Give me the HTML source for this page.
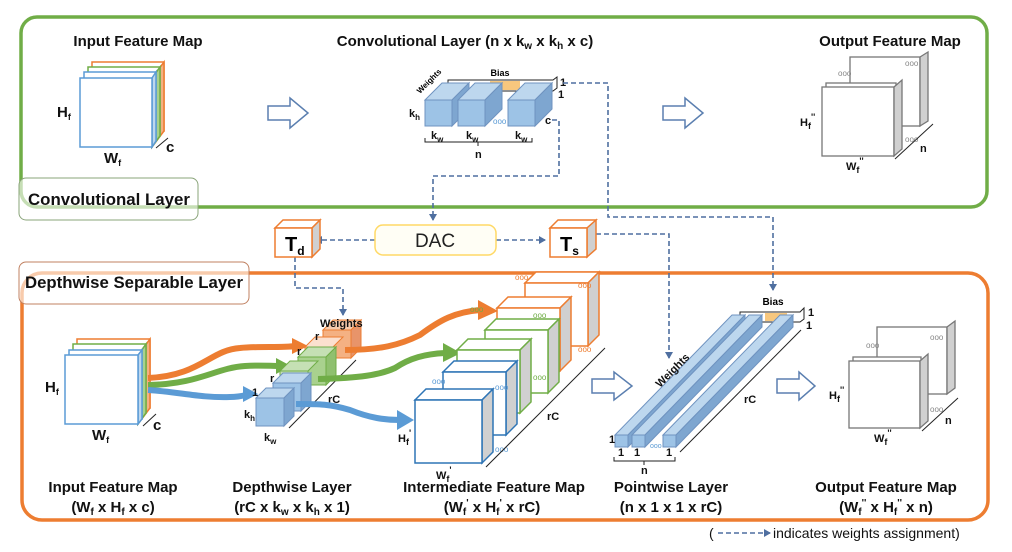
<!DOCTYPE html>
<html><head><meta charset="utf-8"><style>
html,body{margin:0;padding:0;background:#fff;}
svg{display:block;font-family:"Liberation Sans",Arial,sans-serif;}
.t{font-weight:bold;font-size:15px;fill:#111;}
.s{font-weight:bold;font-size:11px;fill:#111;}
</style></head><body>
<svg width="1012" height="552" viewBox="0 0 1012 552" xmlns="http://www.w3.org/2000/svg">
<defs>
<marker id="ah" markerWidth="8" markerHeight="8" refX="6" refY="4" orient="auto" markerUnits="userSpaceOnUse"><path d="M0,0 L7,4 L0,8 z" fill="#4f6fa0"/></marker>
</defs>

<rect x="21" y="17" width="966" height="190" rx="16" fill="none" stroke="#70ad47" stroke-width="3.5"/>
<rect x="19" y="178" width="179" height="42" rx="7" fill="#fff" fill-opacity="0.6" stroke="#8aa47a" stroke-width="1"/>
<text x="28" y="205" font-size="17" font-weight="bold" fill="#111" textLength="162" lengthAdjust="spacingAndGlyphs">Convolutional Layer</text>

<rect x="22" y="273" width="966" height="247" rx="20" fill="none" stroke="#ed7d31" stroke-width="3.5"/>
<rect x="19" y="262" width="230" height="42" rx="7" fill="#fff" fill-opacity="0.6" stroke="#c08060" stroke-width="1"/>
<text x="25" y="288" font-size="17" font-weight="bold" fill="#111" textLength="218" lengthAdjust="spacingAndGlyphs">Depthwise Separable Layer</text>

<text class="t" x="138" y="46" text-anchor="middle">Input Feature Map</text>
<text class="t" x="465" y="46" text-anchor="middle">Convolutional Layer (n x k<tspan font-size="10" dy="3">w</tspan><tspan dy="-3"> x k</tspan><tspan font-size="10" dy="3">h</tspan><tspan dy="-3"> x c)</tspan></text>
<text class="t" x="890" y="46" text-anchor="middle">Output Feature Map</text>

<g stroke-width="1.5" fill="#fff">
<rect x="92" y="62" width="72" height="69" stroke="#ed7d31"/>
<polygon points="152,78 164,62 164,131 152,147" fill="#f4b183" stroke="#ed7d31"/>
<rect x="88" y="67" width="72" height="69" stroke="#70ad47"/>
<polygon points="152,78 160,67 160,136 152,147" fill="#a9d18e" stroke="#70ad47"/>
<rect x="84" y="72" width="72" height="69" stroke="#5b9bd5"/>
<polygon points="152,78 156,72 156,141 152,147" fill="#bdd7ee" stroke="#5b9bd5"/>
<rect x="80" y="78" width="72" height="69" stroke="#5b9bd5"/>
</g>
<text class="t" x="57" y="117" font-size="13">H<tspan font-size="9" dy="3">f</tspan></text>
<text class="t" x="104" y="163" font-size="13">W<tspan font-size="9" dy="3">f</tspan></text>
<line x1="156" y1="148" x2="168" y2="138" stroke="#222"/>
<text class="t" x="166" y="152" font-size="13">c</text>

<g fill="#fff" stroke="#5b7fb0" stroke-width="1.5">
<polygon points="268,106 290,106 290,98 308,113 290,128 290,120 268,120"/>
<polygon points="663,106 685,106 685,98 703,113 685,128 685,120 663,120"/>
<polygon points="592,379 614,379 614,372 632,386 614,400 614,393 592,393"/>
<polygon points="777,379 799,379 799,372 815,386 799,400 799,393 777,393"/>
</g>

<polygon points="448,80 553,80 557,77 557,88 553,91 448,91" fill="#fff" stroke="#222"/>
<rect x="490" y="81" width="30" height="9" fill="#f7c77e"/>
<text x="500" y="76" font-size="9" font-weight="bold" text-anchor="middle">Bias</text>
<g stroke="#6f93c0" stroke-width="1">
<polygon points="425,100 442,83 469,83 452,100" fill="#bdd7ee"/>
<polygon points="452,100 469,83 469,109 452,126" fill="#7ea6d0"/>
<rect x="425" y="100" width="27" height="26" fill="#9dc3e6"/>
<polygon points="458,100 475,83 502,83 485,100" fill="#bdd7ee"/>
<polygon points="485,100 502,83 502,109 485,126" fill="#7ea6d0"/>
<rect x="458" y="100" width="27" height="26" fill="#9dc3e6"/>
<polygon points="508,100 525,83 552,83 535,100" fill="#bdd7ee"/>
<polygon points="535,100 552,83 552,109 535,126" fill="#7ea6d0"/>
<rect x="508" y="100" width="27" height="26" fill="#9dc3e6"/>
</g>
<text x="493" y="124" font-size="8" fill="#5b9bd5">ooo</text>
<text x="420" y="94" font-size="8" font-weight="bold" transform="rotate(-45 420 94)">Weights</text>
<text class="s" x="409" y="117" font-size="12">k<tspan font-size="8" dy="3">h</tspan></text>
<text class="s" x="431" y="139" font-size="12">k<tspan font-size="8" dy="3">w</tspan></text>
<text class="s" x="466" y="139" font-size="12">k<tspan font-size="8" dy="3">w</tspan></text>
<text class="s" x="515" y="139" font-size="12">k<tspan font-size="8" dy="3">w</tspan></text>
<path d="M425,138 V142 H532 V138 M478,142 V146" fill="none" stroke="#222"/>
<text class="s" x="475" y="158" font-size="10">n</text>
<text class="s" x="545" y="124" font-size="11">c</text>
<text class="s" x="560" y="86" font-size="9">1</text>
<text class="s" x="558" y="98" font-size="9">1</text>

<g stroke="#777" stroke-width="1.3">
<rect x="850" y="57" width="70" height="69" fill="#fff"/>
<polygon points="920,57 928,52 928,121 920,126" fill="#d0d0d0"/>
<rect x="826" y="83" width="70" height="69" fill="#fff"/>
<rect x="822" y="87" width="72" height="69" fill="#fff"/>
<polygon points="894,87 902,80 902,149 894,156" fill="#d0d0d0"/>
</g>
<text x="838" y="76" font-size="8" fill="#888">ooo</text>
<text x="905" y="66" font-size="8" fill="#888">ooo</text>
<text x="905" y="142" font-size="8" fill="#888">ooo</text>
<line x1="895" y1="159" x2="933" y2="124" stroke="#222"/>
<text class="s" x="920" y="152" font-size="11">n</text>
<text class="s" x="800" y="126" font-size="13">H<tspan font-size="9" dy="3">f</tspan><tspan dy="-9" font-size="9">''</tspan></text>
<text class="s" x="846" y="170" font-size="13">W<tspan font-size="9" dy="3">f</tspan><tspan dy="-9" font-size="9">''</tspan></text>

<g fill="none" stroke="#4f6fa0" stroke-width="1.6" stroke-dasharray="5,3">
<path d="M552,120 H559 V176 H433 V220" marker-end="url(#ah)"/>
<path d="M375,240 H316" marker-end="url(#ah)"/>
<path d="M496,240 H545" marker-end="url(#ah)"/>
<path d="M563,83 H608 V217 H773 V290" marker-end="url(#ah)"/>
<path d="M596,234 H669 V358" marker-end="url(#ah)"/>
<path d="M295,257 V288 H343 V315" marker-end="url(#ah)"/>
<path d="M718,533 H770" marker-end="url(#ah)"/>
</g>

<rect x="375" y="225" width="121" height="30" rx="8" fill="#fffef5" stroke="#ffd966" stroke-width="1.5"/>
<text x="435" y="247" font-size="19" text-anchor="middle" fill="#222">DAC</text>
<g stroke="#ed7d31" stroke-width="1.5">
<polygon points="275,228 283,220 320,220 312,228" fill="#fff"/>
<polygon points="312,228 320,220 320,249 312,257" fill="#d0d0d0"/>
<rect x="275" y="228" width="37" height="29" fill="#fff"/>
<polygon points="550,228 558,220 596,220 587,228" fill="#fff"/>
<polygon points="587,228 596,220 596,249 587,257" fill="#d0d0d0"/>
<rect x="550" y="228" width="37" height="29" fill="#fff"/>
</g>
<text x="285" y="251" font-size="20" font-weight="bold">T<tspan font-size="12" dy="4">d</tspan></text>
<text x="560" y="251" font-size="20" font-weight="bold">T<tspan font-size="12" dy="4">s</tspan></text>

<g stroke-width="1.5" fill="#fff">
<rect x="77" y="339" width="73" height="69" stroke="#ed7d31"/>
<polygon points="138,355 150,339 150,408 138,424" fill="#f4b183" stroke="#ed7d31"/>
<rect x="73" y="344" width="73" height="69" stroke="#70ad47"/>
<polygon points="138,355 146,344 146,413 138,424" fill="#a9d18e" stroke="#70ad47"/>
<rect x="69" y="350" width="73" height="69" stroke="#5b9bd5"/>
<polygon points="138,355 142,350 142,419 138,424" fill="#bdd7ee" stroke="#5b9bd5"/>
<rect x="65" y="355" width="73" height="69" stroke="#5b9bd5"/>
</g>
<text class="t" x="45" y="392" font-size="13">H<tspan font-size="9" dy="3">f</tspan></text>
<text class="t" x="92" y="440" font-size="13">W<tspan font-size="9" dy="3">f</tspan></text>
<line x1="143" y1="426" x2="156" y2="414" stroke="#222"/>
<text class="t" x="153" y="430" font-size="13">c</text>

<g fill="none" stroke-width="6">
<path d="M148,378 C200,376 210,350 240,348 C260,346 280,348 296,346" stroke="#ed7d31"/>
<path d="M148,385 C200,384 215,368 245,366 C260,365 270,366 280,366" stroke="#70ad47"/>
<path d="M148,390 C180,392 200,398 230,397 C238,397 242,396 246,395" stroke="#5b9bd5"/>
</g>
<polygon points="292,338 308,346 292,354" fill="#ed7d31"/>
<polygon points="276,358 291,366 276,374" fill="#70ad47"/>
<polygon points="243,386 258,394 243,402" fill="#5b9bd5"/>

<g stroke-width="1">
<polygon points="323,330 333,320 361,320 351,330" fill="#f8cbad" stroke="#ed7d31"/>
<polygon points="351,330 361,320 361,348 351,358" fill="#e8946a" stroke="#ed7d31"/>
<rect x="323" y="330" width="28" height="28" fill="#f4b183" stroke="#ed7d31"/>
<polygon points="305,347 315,337 343,337 333,347" fill="#fbe0cf" stroke="#ed7d31"/>
<rect x="305" y="347" width="28" height="28" fill="#f8cbad" stroke="#ed7d31"/>
<polygon points="298,357 308,347 336,347 326,357" fill="#c5e0b4" stroke="#70ad47"/>
<polygon points="326,357 336,347 336,375 326,385" fill="#8fc06f" stroke="#70ad47"/>
<rect x="298" y="357" width="28" height="28" fill="#a9d18e" stroke="#70ad47"/>
<polygon points="280,371 290,361 318,361 308,371" fill="#c5e0b4" stroke="#70ad47"/>
<rect x="280" y="371" width="28" height="28" fill="#c5e0b4" stroke="#70ad47"/>
<polygon points="273,383 283,373 311,373 301,383" fill="#bdd7ee" stroke="#6f93c0"/>
<polygon points="301,383 311,373 311,401 301,411" fill="#7ea6d0" stroke="#6f93c0"/>
<rect x="273" y="383" width="28" height="28" fill="#9dc3e6" stroke="#6f93c0"/>
<polygon points="256,398 266,388 294,388 284,398" fill="#bdd7ee" stroke="#6f93c0"/>
<polygon points="284,398 294,388 294,416 284,426" fill="#7ea6d0" stroke="#6f93c0"/>
<rect x="256" y="398" width="28" height="28" fill="#9dc3e6" stroke="#6f93c0"/>
</g>
<text class="s" x="320" y="327" font-size="9">Weights</text>
<line x1="289" y1="428" x2="356" y2="360" stroke="#222"/>
<text class="s" x="328" y="403" font-size="11">rC</text>
<text class="s" x="244" y="418" font-size="12">k<tspan font-size="8" dy="3">h</tspan></text>
<text class="s" x="264" y="441" font-size="12">k<tspan font-size="8" dy="3">w</tspan></text>
<text class="s" x="252" y="396" font-size="8">1</text>
<text class="s" x="270" y="382" font-size="8">r</text>
<text class="s" x="297" y="355" font-size="8">r</text>
<text class="s" x="315" y="340" font-size="8">r</text>

<g fill="none" stroke-width="6">
<path d="M345,350 C380,350 400,345 420,335 C440,320 455,312 480,310" stroke="#ed7d31"/>
<path d="M318,379 C360,378 380,375 395,368 C410,358 425,354 445,353" stroke="#70ad47"/>
<path d="M296,404 C320,404 330,404 350,410 C370,418 385,420 400,420" stroke="#5b9bd5"/>
</g>
<polygon points="478,300 498,311 478,320" fill="#ed7d31"/>
<polygon points="443,343 461,353 443,362" fill="#70ad47"/>
<polygon points="397,410 414,420 397,430" fill="#5b9bd5"/>

<g stroke-width="1.5">
<polygon points="525,283 536,272 599,272 588,283" fill="#fff" stroke="#ed7d31"/>
<polygon points="588,283 599,272 599,335 588,346" fill="#d0d0d0" stroke="#ed7d31"/>
<rect x="525" y="283" width="63" height="63" fill="#fff" stroke="#ed7d31"/>
<polygon points="497,308 508,297 571,297 560,308" fill="#fff" stroke="#ed7d31"/>
<polygon points="560,308 571,297 571,360 560,371" fill="#d0d0d0" stroke="#ed7d31"/>
<rect x="497" y="308" width="63" height="63" fill="#fff" stroke="#ed7d31"/>
<polygon points="485,330 496,319 559,319 548,330" fill="#fff" stroke="#70ad47"/>
<polygon points="548,330 559,319 559,382 548,393" fill="#d0d0d0" stroke="#70ad47"/>
<rect x="485" y="330" width="63" height="63" fill="#fff" stroke="#70ad47"/>
<polygon points="457,350 468,339 531,339 520,350" fill="#fff" stroke="#70ad47"/>
<polygon points="520,350 531,339 531,402 520,413" fill="#d0d0d0" stroke="#70ad47"/>
<rect x="457" y="350" width="63" height="63" fill="#fff" stroke="#70ad47"/>
<polygon points="443,372 454,361 517,361 506,372" fill="#fff" stroke="#2e75b6"/>
<polygon points="506,372 517,361 517,424 506,435" fill="#d0d0d0" stroke="#2e75b6"/>
<rect x="443" y="372" width="63" height="63" fill="#fff" stroke="#2e75b6"/>
<polygon points="415,400 426,389 493,389 482,400" fill="#fff" stroke="#2e75b6"/>
<polygon points="482,400 493,389 493,452 482,463" fill="#d0d0d0" stroke="#2e75b6"/>
<rect x="415" y="400" width="67" height="63" fill="#fff" stroke="#2e75b6"/>
</g>
<g font-size="8" fill="#5b9bd5">
<text x="432" y="384">ooo</text><text x="495" y="390">ooo</text><text x="495" y="452">ooo</text>
<text x="470" y="312" fill="#70ad47">ooo</text><text x="533" y="318" fill="#70ad47">ooo</text><text x="533" y="380" fill="#70ad47">ooo</text>
<text x="515" y="280" fill="#ed7d31">ooo</text><text x="578" y="288" fill="#ed7d31">ooo</text><text x="578" y="352" fill="#ed7d31">ooo</text>
</g>
<line x1="486" y1="467" x2="605" y2="348" stroke="#222"/>
<text class="s" x="547" y="420" font-size="11">rC</text>
<text class="s" x="398" y="442" font-size="13">H<tspan font-size="9" dy="3">f</tspan><tspan dy="-9" font-size="9">'</tspan></text>
<text class="s" x="436" y="479" font-size="13">W<tspan font-size="9" dy="3">f</tspan><tspan dy="-9" font-size="9">'</tspan></text>

<polygon points="740,312 800,312 804,308 804,319 800,322 740,322" fill="#fff" stroke="#222"/>
<rect x="765" y="313" width="22" height="8" fill="#f7c77e"/>
<text x="773" y="305" font-size="10" font-weight="bold" text-anchor="middle">Bias</text>
<text class="s" x="808" y="316" font-size="9">1</text>
<text class="s" x="806" y="329" font-size="9">1</text>
<g stroke="#6f93c0" stroke-width="1">
<polygon points="615,435 732,315 745,315 628,435" fill="#bdd7ee"/>
<polygon points="628,435 745,315 745,327 628,447" fill="#7ea6d0"/>
<rect x="615" y="435" width="13" height="12" fill="#9dc3e6"/>
<polygon points="632,435 749,315 762,315 645,435" fill="#bdd7ee"/>
<polygon points="645,435 762,315 762,327 645,447" fill="#7ea6d0"/>
<rect x="632" y="435" width="13" height="12" fill="#9dc3e6"/>
<polygon points="663,435 780,315 793,315 676,435" fill="#bdd7ee"/>
<polygon points="676,435 793,315 793,327 676,447" fill="#7ea6d0"/>
<rect x="663" y="435" width="13" height="12" fill="#9dc3e6"/>
</g>
<text x="650" y="448" font-size="7" fill="#5b9bd5">ooo</text>
<text class="s" x="660" y="388" font-size="10" transform="rotate(-45 660 388)">Weights</text>
<line x1="680" y1="452" x2="801" y2="330" stroke="#222"/>
<text class="s" x="744" y="403" font-size="11">rC</text>
<text class="s" x="609" y="443" font-size="9">1</text>
<text class="s" x="618" y="456" font-size="9">1</text>
<text class="s" x="634" y="456" font-size="9">1</text>
<text class="s" x="666" y="456" font-size="9">1</text>
<path d="M614,457 V461 H675 V457 M644,461 V465" fill="none" stroke="#222"/>
<text class="s" x="641" y="474" font-size="10">n</text>

<g stroke="#777" stroke-width="1.3">
<rect x="877" y="327" width="70" height="67" fill="#fff"/>
<polygon points="947,327 955,321 955,388 947,394" fill="#d0d0d0"/>
<rect x="853" y="357" width="68" height="67" fill="#fff"/>
<rect x="849" y="361" width="71" height="67" fill="#fff"/>
<polygon points="920,361 928,354 928,421 920,428" fill="#d0d0d0"/>
</g>
<text x="866" y="348" font-size="8" fill="#888">ooo</text>
<text x="930" y="340" font-size="8" fill="#888">ooo</text>
<text x="930" y="412" font-size="8" fill="#888">ooo</text>
<line x1="922" y1="431" x2="958" y2="398" stroke="#222"/>
<text class="s" x="945" y="424" font-size="11">n</text>
<text class="s" x="829" y="399" font-size="13">H<tspan font-size="9" dy="3">f</tspan><tspan dy="-9" font-size="9">''</tspan></text>
<text class="s" x="874" y="442" font-size="13">W<tspan font-size="9" dy="3">f</tspan><tspan dy="-9" font-size="9">''</tspan></text>

<text class="t" x="113" y="492" text-anchor="middle">Input Feature Map</text>
<text class="t" x="113" y="512" text-anchor="middle">(W<tspan font-size="10" dy="3">f</tspan><tspan dy="-3"> x H</tspan><tspan font-size="10" dy="3">f</tspan><tspan dy="-3"> x c)</tspan></text>
<text class="t" x="292" y="492" text-anchor="middle">Depthwise Layer</text>
<text class="t" x="292" y="512" text-anchor="middle">(rC x k<tspan font-size="10" dy="3">w</tspan><tspan dy="-3"> x k</tspan><tspan font-size="10" dy="3">h</tspan><tspan dy="-3"> x 1)</tspan></text>
<text class="t" x="494" y="492" text-anchor="middle">Intermediate Feature Map</text>
<text class="t" x="492" y="512" text-anchor="middle">(W<tspan font-size="10" dy="3">f</tspan><tspan dy="-9" font-size="10">'</tspan><tspan dy="6"> x H</tspan><tspan font-size="10" dy="3">f</tspan><tspan dy="-9" font-size="10">'</tspan><tspan dy="6"> x rC)</tspan></text>
<text class="t" x="671" y="492" text-anchor="middle">Pointwise Layer</text>
<text class="t" x="671" y="512" text-anchor="middle">(n x 1 x 1 x rC)</text>
<text class="t" x="886" y="492" text-anchor="middle">Output Feature Map</text>
<text class="t" x="886" y="512" text-anchor="middle">(W<tspan font-size="10" dy="3">f</tspan><tspan dy="-9" font-size="10">''</tspan><tspan dy="6"> x H</tspan><tspan font-size="10" dy="3">f</tspan><tspan dy="-9" font-size="10">''</tspan><tspan dy="6"> x n)</tspan></text>
<text x="709" y="538" font-size="14" fill="#111">(</text>
<text x="773" y="538" font-size="14" fill="#111">indicates weights assignment)</text>
</svg>
</body></html>
